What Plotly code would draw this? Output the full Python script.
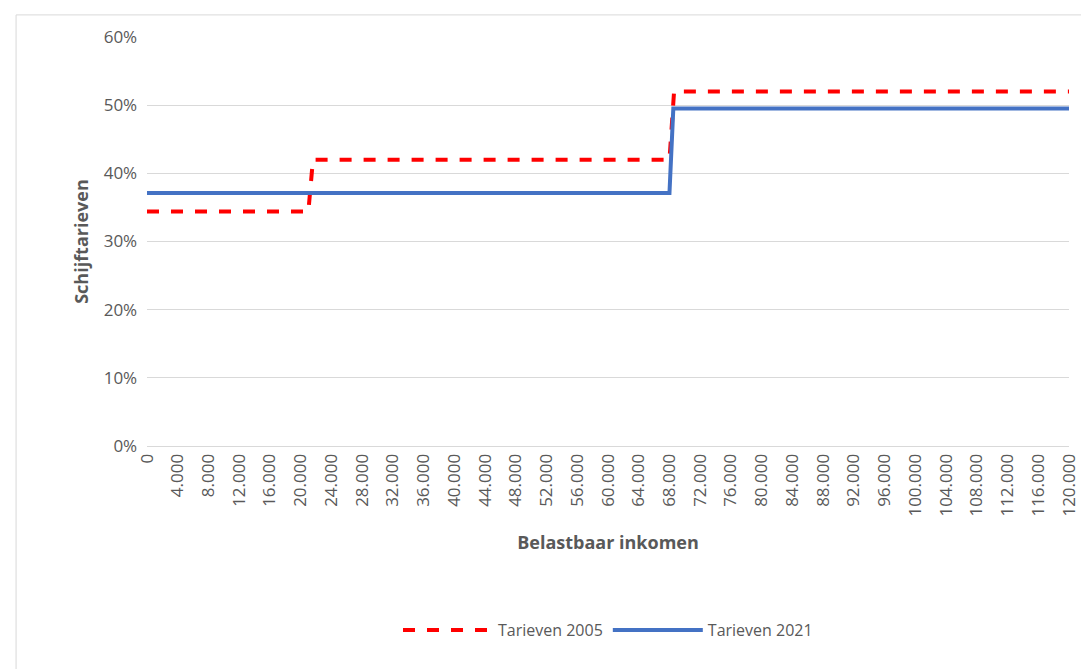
import plotly.graph_objects as go

# breakpoints of the income (euro) and tax rates
inkomen_2005 = [0, 21000, 21600, 68000, 68600, 120000]
tarief_2005 = [0.344, 0.344, 0.42, 0.42, 0.52, 0.52]
inkomen_2021 = [0, 68000, 68500, 120000]
tarief_2021 = [0.371, 0.371, 0.495, 0.495]

tick_vals = list(range(0, 120001, 4000))
tick_text = ["0"] + [f"{v:,}".replace(",", ".") for v in tick_vals[1:]]

fig = go.Figure()
fig.add_trace(go.Scatter(x=inkomen_2005, y=tarief_2005, mode="lines", name="Tarieven 2005",
                         line=dict(color="#ff0000", width=4, dash="dash")))
fig.add_trace(go.Scatter(x=inkomen_2021, y=tarief_2021, mode="lines", name="Tarieven 2021",
                         line=dict(color="#4472c4", width=4)))

fig.update_layout(
    width=1089, height=669, paper_bgcolor="white", plot_bgcolor="white",
    margin=dict(l=139, r=28, t=29, b=231),
    font=dict(family="Open Sans", size=17, color="#595959"),
    legend=dict(orientation="h", x=0.5, xanchor="center", y=-0.45, yanchor="middle",
                font=dict(size=16), itemwidth=90),
    shapes=[dict(type="rect", xref="paper", yref="paper", x0=-0.142, x1=1.05, y0=-0.6, y1=1.054,
                 line=dict(color="#d9d9d9", width=1))],
)
fig.update_xaxes(range=[0, 120000], tickvals=tick_vals, ticktext=tick_text, tickangle=-90,
                 showgrid=False, showline=True, linecolor="#d9d9d9", zeroline=False,
                 title=dict(text="<b>Belastbaar inkomen</b>", font=dict(size=18), standoff=20))
fig.update_yaxes(range=[0, 0.6], dtick=0.1, tickformat=".0%", gridcolor="#d9d9d9",
                 zeroline=False, ticksuffix="  ",
                 title=dict(text="<b>Schijftarieven</b>", font=dict(size=18), standoff=10))

fig.write_html("out.html")
